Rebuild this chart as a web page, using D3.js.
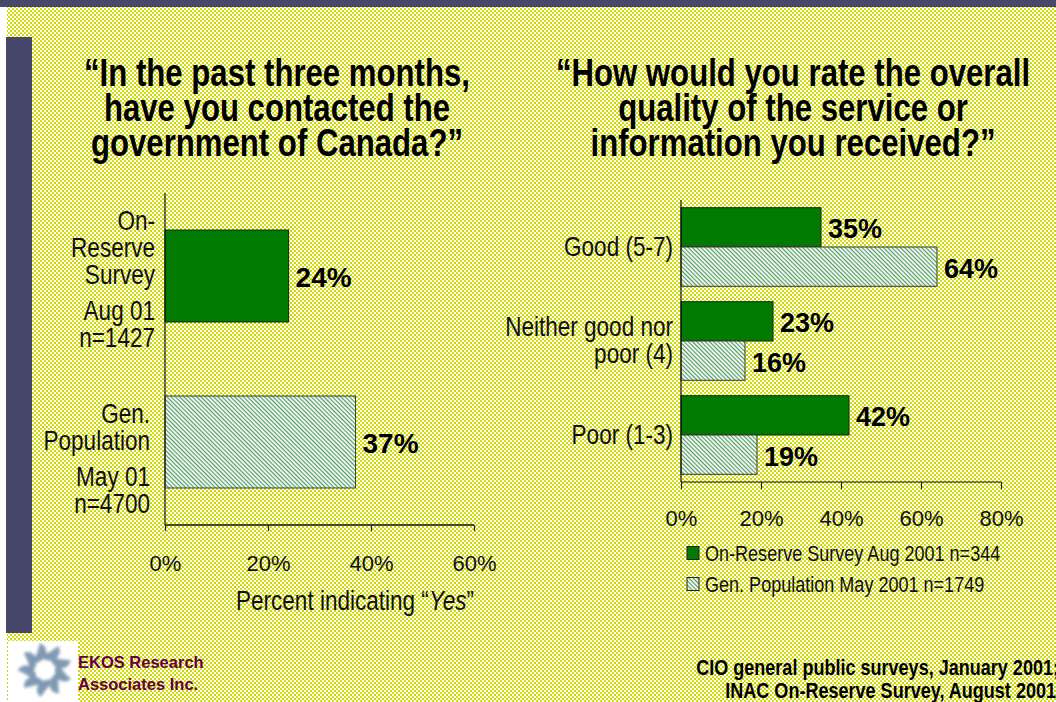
<!DOCTYPE html>
<html>
<head>
<meta charset="utf-8">
<script src="https://cdn.jsdelivr.net/npm/d3@7"></script>
<style>
  html, body { margin: 0; padding: 0; background: #ffffff; }
  svg { display: block; }
</style>
</head>
<body>
<svg id="chart" width="1056" height="702"></svg>
<script>
// ---- data ----
const leftCategories = ["On-Reserve Aug 01", "Gen. Population May 01"];
const leftLabelLines = [
  [["On-", "Reserve", "Survey"], ["Aug 01", "n=1427"]],
  [["Gen.", "Population"], ["May 01", "n=4700"]]
];
const leftValues = [24, 37];
const leftTicks = [0, 20, 40, 60];

const rightCategories = ["Good (5-7)", "Neither good nor poor (4)", "Poor (1-3)"];
const rightLabelLines = [["Good (5-7)"], ["Neither good nor", "poor (4)"], ["Poor (1-3)"]];
const seriesNames = ["On-Reserve Survey Aug 2001 n=344", "Gen. Population May 2001 n=1749"];
const onReserveValues = [35, 23, 42];
const genPopValues = [64, 16, 19];
const rightTicks = [0, 20, 40, 60, 80];

const leftTitle = ["\u201CIn the past three months,", "have you contacted the", "government of Canada?\u201D"];
const rightTitle = ["\u201CHow would you rate the overall", "quality of the service or", "information you received?\u201D"];
const sourceLines = ["CIO general public surveys, January 2001;", "INAC On-Reserve Survey, August 2001"];
const logoLines = ["EKOS Research", "Associates Inc."];

// ---- styles ----
const SANS = "'Liberation Sans', Arial, sans-serif";
const SQUEEZE = 0.82;          // condensed face, drawn by narrowing the regular one
const GREEN = "#007a00";
const SLATE = "#47476b";

const svg = d3.select("#chart");
const defs = svg.append("defs");

// dotted yellow backdrop
const dots = defs.append("pattern").attr("id", "dots")
  .attr("patternUnits", "userSpaceOnUse").attr("width", 4).attr("height", 4);
dots.append("rect").attr("width", 4).attr("height", 4).attr("fill", "#ffffff");
dots.append("rect").attr("x", 0).attr("y", 0).attr("width", 2).attr("height", 2).attr("fill", "#d6de10");
dots.append("rect").attr("x", 2).attr("y", 2).attr("width", 2).attr("height", 2).attr("fill", "#ccd600");

// fine diagonal hatch for the general-population series
const hatch = defs.append("pattern").attr("id", "hatch")
  .attr("patternUnits", "userSpaceOnUse").attr("width", 3).attr("height", 3)
  .attr("patternTransform", "rotate(45)");
hatch.append("rect").attr("width", 3).attr("height", 3).attr("fill", "#f4f8f2");
hatch.append("rect").attr("width", 3).attr("height", 1.1).attr("fill", "#4f9a60");

const blur = defs.append("filter").attr("id", "soft")
  .attr("x", "-30%").attr("y", "-30%").attr("width", "160%").attr("height", "160%");
blur.append("feGaussianBlur").attr("stdDeviation", 1.8);

// condensed text helper: places a text at (x, y) narrowed horizontally
function narrow(sel, x, y) {
  return sel.attr("x", 0).attr("y", 0)
    .attr("transform", (d, i) => `translate(${x(d, i)},${y(d, i)}) scale(${SQUEEZE},1)`);
}

// backdrop
svg.append("rect").attr("x", 7).attr("y", 7).attr("width", 1049).attr("height", 695).attr("fill", "url(#dots)");
svg.append("rect").attr("x", 0).attr("y", 0).attr("width", 1056).attr("height", 7).attr("fill", SLATE);
svg.append("rect").attr("x", 6).attr("y", 37).attr("width", 26).attr("height", 596).attr("fill", SLATE);

// ---- titles ----
function drawTitle(lines, cx) {
  svg.append("g").selectAll("text").data(lines).join("text")
    .call(narrow, () => cx, (d, i) => 73 + i * 35)
    .attr("text-anchor", "middle").attr("dominant-baseline", "central")
    .attr("font-family", SANS).attr("font-weight", "bold").attr("font-size", 38)
    .attr("fill", "#000").text(d => d);
}
drawTitle(leftTitle, 277);
drawTitle(rightTitle, 793);

// ---- left chart ----
const xL = d3.scaleLinear().domain([0, 60]).range([165, 474]);
const yL = d3.scaleBand().domain(leftCategories).range([193, 525]).paddingInner(0.446).paddingOuter(0.223);
const leftLabelRight = [155, 150];

const gL = svg.append("g");
gL.selectAll("rect.bar").data(leftValues).join("rect")
  .attr("class", "bar")
  .attr("x", xL(0))
  .attr("y", (d, i) => yL(leftCategories[i]))
  .attr("width", d => xL(d) - xL(0))
  .attr("height", yL.bandwidth())
  .attr("fill", (d, i) => i === 0 ? GREEN : "url(#hatch)")
  .attr("stroke", (d, i) => i === 0 ? "#0b2a0b" : "#3a3a3a").attr("stroke-width", 1);

gL.selectAll("text.val").data(leftValues).join("text")
  .attr("class", "val")
  .attr("x", d => xL(d) + 7)
  .attr("y", (d, i) => yL(leftCategories[i]) + yL.bandwidth() / 2 + 1)
  .attr("dominant-baseline", "central")
  .attr("font-family", SANS).attr("font-weight", "bold").attr("font-size", 28)
  .text(d => d + "%");

// category labels: paragraphs stacked upward from the last line
leftLabelLines.forEach((paras, i) => {
  const c = yL(leftCategories[i]) + yL.bandwidth() / 2;
  const placed = [];
  let y = c + 61;
  for (let p = paras.length - 1; p >= 0; p--) {
    const lines = paras[p];
    for (let l = lines.length - 1; l >= 0; l--) {
      placed.push({ t: lines[l], y });
      y -= (l > 0) ? (p === paras.length - 1 ? 26.5 : 27) : 0;
    }
    y -= 36;
  }
  gL.append("g").selectAll("text").data(placed).join("text")
    .call(narrow, () => leftLabelRight[i], d => d.y)
    .attr("text-anchor", "end").attr("dominant-baseline", "central")
    .attr("font-family", SANS).attr("font-size", 27.5).attr("fill", "#111")
    .text(d => d.t);
});

// axes
gL.append("line").attr("x1", xL(0)).attr("x2", xL(0)).attr("y1", 193).attr("y2", 525)
  .attr("stroke", "#111").attr("stroke-width", 1.2);
const axL = gL.append("g").attr("transform", "translate(0,525)")
  .call(d3.axisBottom(xL).tickValues(leftTicks).tickSize(6).tickFormat(d => d + "%"));
axL.select(".domain").attr("stroke", "#111").attr("stroke-width", 1.5).attr("d", `M${xL(0)},0H${xL(60)}`);
axL.selectAll(".tick line").attr("stroke", "#222").attr("stroke-width", 1.2);
axL.selectAll(".tick text").attr("font-family", SANS).attr("font-size", 22).attr("fill", "#111")
  .attr("dy", null).attr("y", 38).attr("dominant-baseline", "central");

const axTitle = gL.append("text")
  .attr("transform", `translate(355,600) scale(${SQUEEZE},1)`)
  .attr("text-anchor", "middle").attr("dominant-baseline", "central")
  .attr("font-family", SANS).attr("font-size", 27.5).attr("fill", "#111");
axTitle.append("tspan").text("Percent indicating \u201C");
axTitle.append("tspan").attr("font-style", "italic").text("Yes");
axTitle.append("tspan").text("\u201D");

// ---- right chart ----
const xR = d3.scaleLinear().domain([0, 80]).range([681, 1001]);
const yR = d3.scaleBand().domain(rightCategories).range([200, 482]).paddingInner(0.164).paddingOuter(0.082);
const ySub = d3.scaleBand().domain(seriesNames).range([0, yR.bandwidth()]);

const rows = rightCategories.map((c, i) => ({ c, vals: [onReserveValues[i], genPopValues[i]] }));
const gR = svg.append("g");
const grp = gR.selectAll("g.grp").data(rows).join("g")
  .attr("class", "grp").attr("transform", d => `translate(0,${yR(d.c)})`);
grp.selectAll("rect").data(d => d.vals.map((v, k) => ({ v, s: seriesNames[k], k }))).join("rect")
  .attr("x", xR(0))
  .attr("y", d => ySub(d.s))
  .attr("width", d => xR(d.v) - xR(0))
  .attr("height", ySub.bandwidth())
  .attr("fill", d => d.k === 0 ? GREEN : "url(#hatch)")
  .attr("stroke", d => d.k === 0 ? "#0b2a0b" : "#3a3a3a").attr("stroke-width", 1);
grp.selectAll("text").data(d => d.vals.map((v, k) => ({ v, s: seriesNames[k], k }))).join("text")
  .attr("x", d => xR(d.v) + 7)
  .attr("y", d => ySub(d.s) + ySub.bandwidth() / 2 + 2)
  .attr("dominant-baseline", "central")
  .attr("font-family", SANS).attr("font-weight", "bold").attr("font-size", 27)
  .text(d => d.v + "%");

rightLabelLines.forEach((lines, i) => {
  const c = yR(rightCategories[i]) + yR.bandwidth() / 2;
  gR.append("g").selectAll("text").data(lines).join("text")
    .call(narrow, () => 673, (d, l) => c - 1 + (l - (lines.length - 1) / 2) * 27)
    .attr("text-anchor", "end").attr("dominant-baseline", "central")
    .attr("font-family", SANS).attr("font-size", 27.5).attr("fill", "#111")
    .text(d => d);
});

gR.append("line").attr("x1", xR(0)).attr("x2", xR(0)).attr("y1", 200).attr("y2", 482)
  .attr("stroke", "#111").attr("stroke-width", 1.2);
const axR = gR.append("g").attr("transform", "translate(0,482)")
  .call(d3.axisBottom(xR).tickValues(rightTicks).tickSize(7).tickFormat(d => d + "%"));
axR.select(".domain").attr("stroke", "#111").attr("stroke-width", 1.2).attr("d", `M${xR(0)},0H${xR(80)}`);
axR.selectAll(".tick line").attr("stroke", "#222").attr("stroke-width", 1.2);
axR.selectAll(".tick text").attr("font-family", SANS).attr("font-size", 22).attr("fill", "#111")
  .attr("dy", null).attr("y", 36).attr("dominant-baseline", "central");

// legend
const leg = gR.append("g").selectAll("g").data(seriesNames).join("g")
  .attr("transform", (d, i) => `translate(687,${553 + i * 31})`);
leg.append("rect").attr("x", 0).attr("y", -6.5).attr("width", 12).attr("height", 13)
  .attr("fill", (d, i) => i === 0 ? GREEN : "url(#hatch)")
  .attr("stroke", "#222").attr("stroke-width", 1);
leg.append("text").attr("transform", `translate(18,0) scale(${SQUEEZE},1)`)
  .attr("dominant-baseline", "central")
  .attr("font-family", SANS).attr("font-size", 22).attr("fill", "#111").text(d => d);

// ---- footer ----
svg.append("g").selectAll("text").data(sourceLines).join("text")
  .call(narrow, (d, i) => i === 0 ? 1059 : 1056, (d, i) => 667 + i * 23)
  .attr("text-anchor", "end").attr("dominant-baseline", "central")
  .attr("font-family", SANS).attr("font-weight", "bold").attr("font-size", 22).attr("fill", "#000")
  .text(d => d);

// logo mark: ring of soft curved blades
const logo = svg.append("g");
logo.append("rect").attr("x", 8).attr("y", 641).attr("width", 70).attr("height", 61).attr("fill", "#ffffff");
const mark = logo.append("g").attr("transform", "translate(45,670)").attr("filter", "url(#soft)");
mark.append("circle").attr("r", 15).attr("fill", "none").attr("stroke", "#a9bccd").attr("stroke-width", 5);
d3.range(9).forEach(k => {
  mark.append("path")
    .attr("transform", `rotate(${k * 40})`)
    .attr("d", "M-4,-12 C2,-17 9,-20 13,-24 C17,-18 14,-12 7,-10 C3,-9 0,-10 -4,-12 Z")
    .attr("fill", "#8099b2");
});
logo.append("g").selectAll("text").data(logoLines).join("text")
  .attr("x", 78).attr("y", (d, i) => 662 + i * 22)
  .attr("dominant-baseline", "central")
  .attr("font-family", SANS).attr("font-weight", "bold").attr("font-size", 16.5).attr("fill", "#66003a")
  .text(d => d);
</script>
</body>
</html>
